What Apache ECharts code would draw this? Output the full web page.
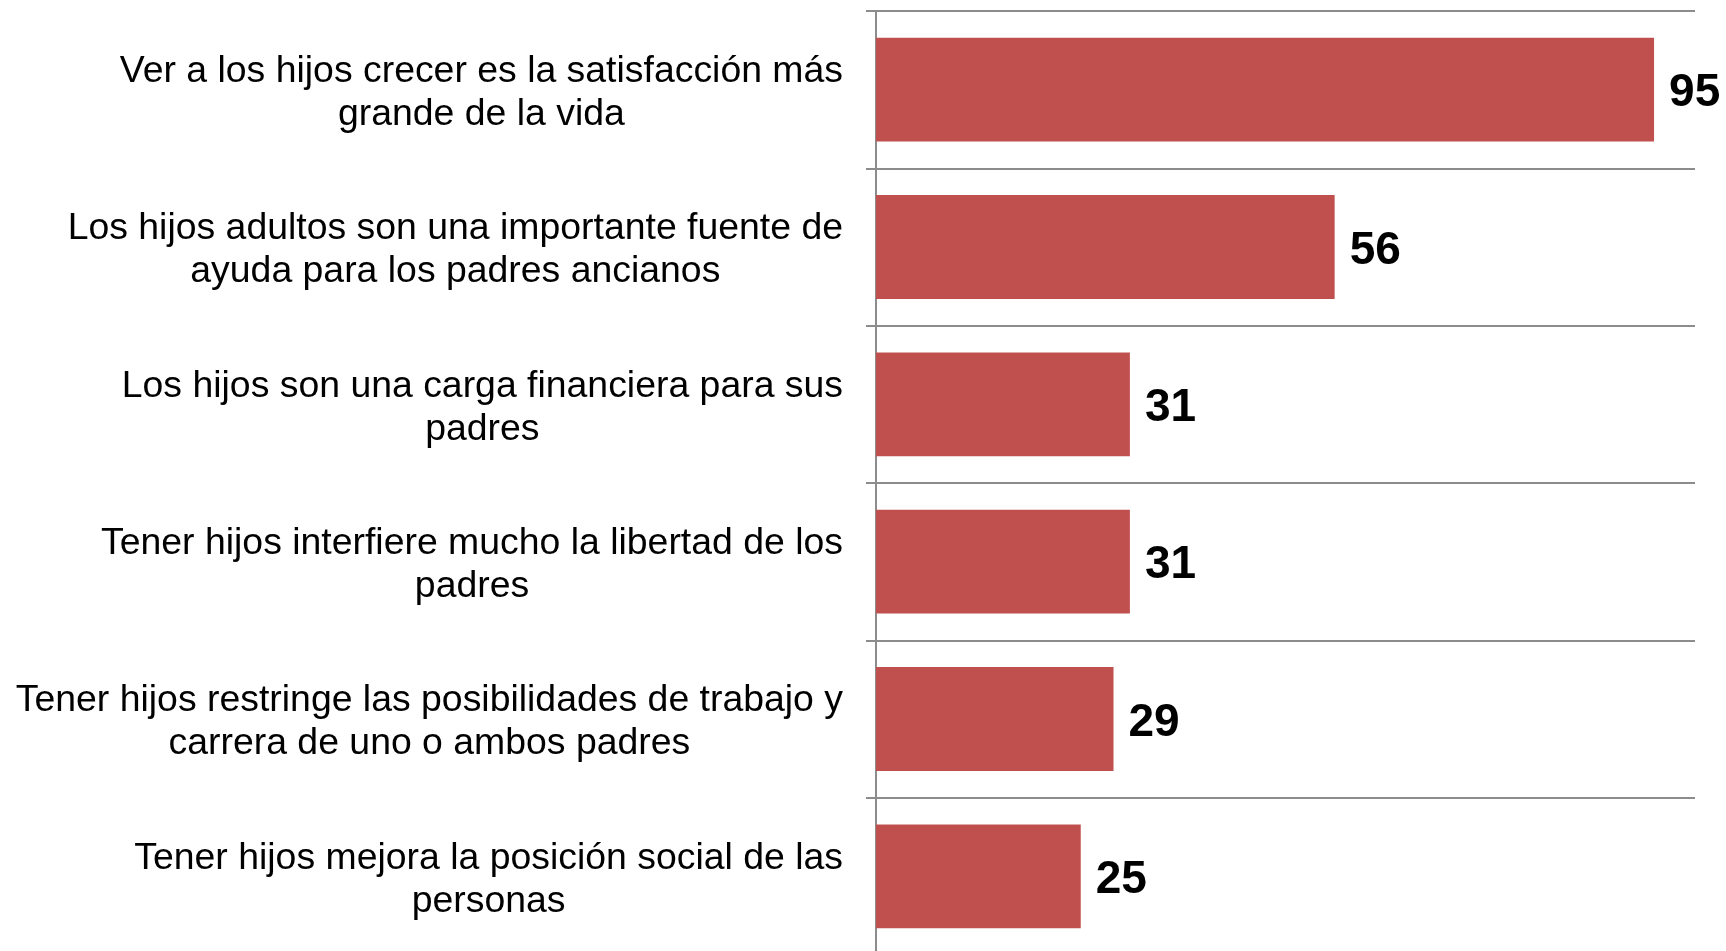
<!DOCTYPE html>
<html>
<head>
<meta charset="utf-8">
<script src="https://cdn.jsdelivr.net/npm/echarts@6/dist/echarts.min.js"></script>
<style>
  html, body { margin: 0; padding: 0; background: #fff; overflow: hidden; }
  #chart { width: 1726px; height: 956px; }
</style>
</head>
<body>
<div id="chart"></div>
<script>
// categories, top to bottom (line breaks as in the original)
var categories = [
  ['Ver a los hijos crecer es la satisfacción más', 'grande de la vida'],
  ['Los hijos adultos son una importante fuente de', 'ayuda para los padres ancianos'],
  ['Los hijos son una carga financiera para sus', 'padres'],
  ['Tener hijos interfiere mucho la libertad de los', 'padres'],
  ['Tener hijos restringe las posibilidades de trabajo y', 'carrera de uno o ambos padres'],
  ['Tener hijos mejora la posición social de las', 'personas']
];
var values = [95, 56, 31, 31, 29, 25];

var myChart = echarts.init(document.getElementById('chart'));
var option = {
  animation: false,
  // plot runs a bit past the bottom of the window, like the original
  grid: { left: 876, right: 31, top: 11, bottom: 1 },
  xAxis: {
    type: 'value',
    min: 0,
    max: 100,
    show: false
  },
  yAxis: {
    type: 'category',
    inverse: true,
    data: categories.map(function (c) { return c.join('\n'); }),
    axisLine: { show: true, lineStyle: { color: '#8c8c8c', width: 2 } },
    axisTick: { show: true, length: 10, lineStyle: { color: '#8c8c8c', width: 2 } },
    splitLine: { show: true, lineStyle: { color: '#8c8c8c', width: 2 } },
    axisLabel: {
      margin: 33,
      align: 'right',
      padding: [7, 0, 0, 0],
      formatter: function (v) {
        return v.split('\n').map(function (s) { return '{a|' + s + '}'; }).join('\n');
      },
      rich: {
        a: {
          align: 'center',
          fontFamily: 'Liberation Sans, Arial, sans-serif',
          fontSize: 37.4,
          lineHeight: 43,
          color: '#000'
        }
      }
    }
  },
  series: [{
    type: 'bar',
    data: values,
    barCategoryGap: '34%',
    itemStyle: { color: '#C0504D' },
    label: {
      show: true,
      position: 'right',
      distance: 15,
      offset: [0, 4],
      fontFamily: 'Liberation Sans, Arial, sans-serif',
      fontSize: 46,
      fontWeight: 'bold',
      color: '#000'
    }
  }]
};
myChart.setOption(option);
</script>
</body>
</html>
